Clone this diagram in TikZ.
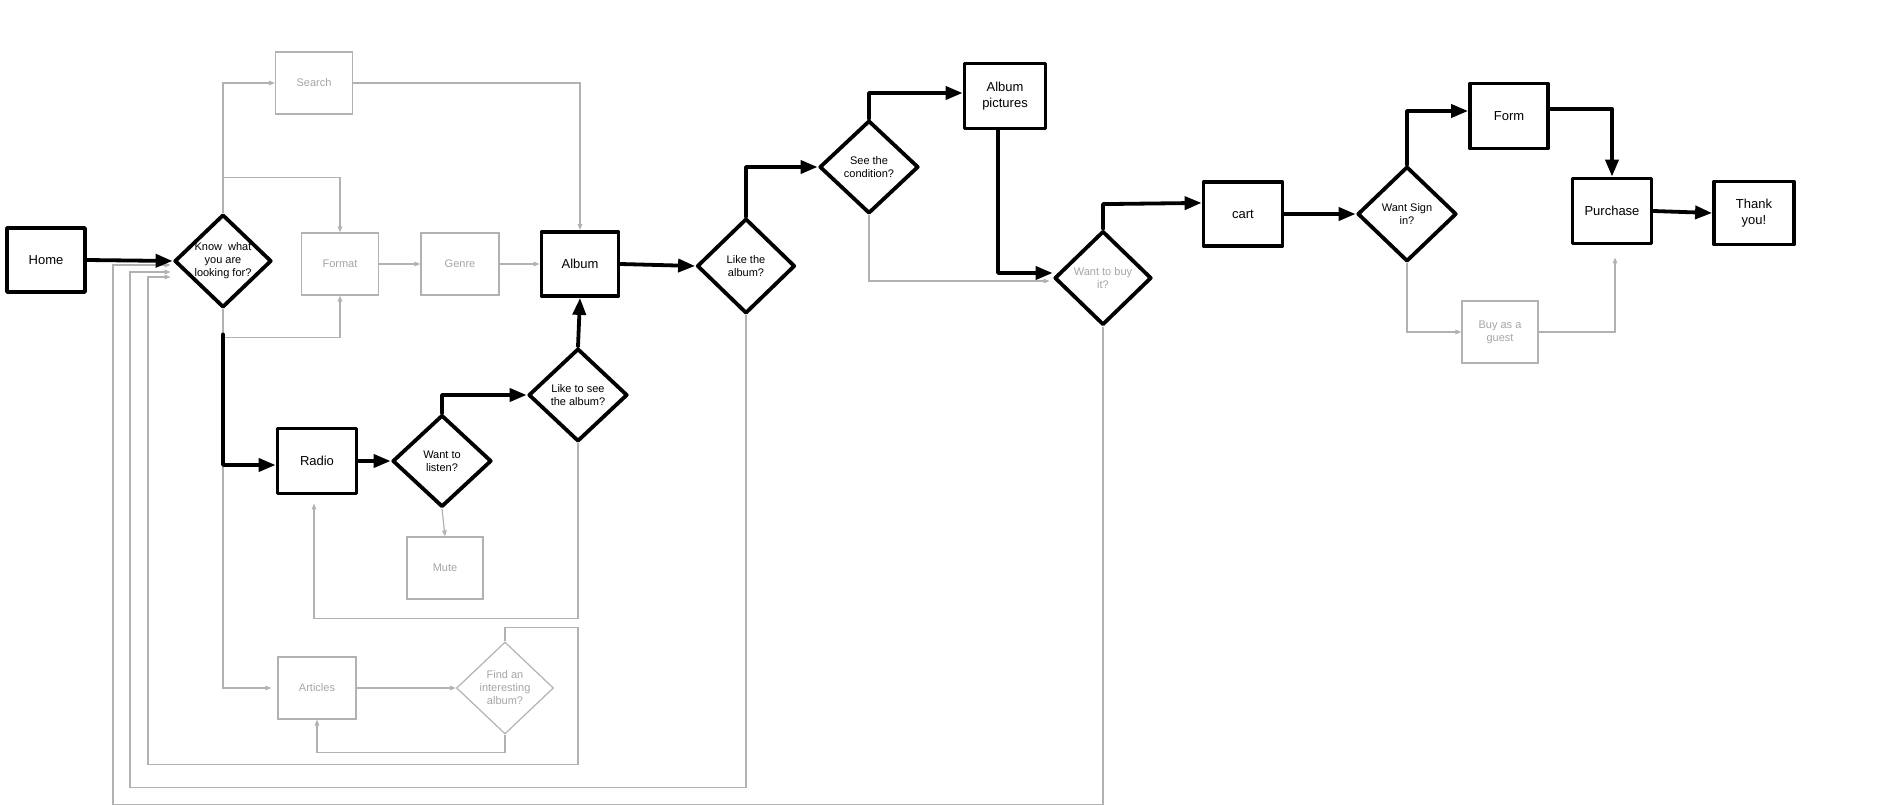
\documentclass[tikz,border=0pt]{standalone}
\usepackage{fontspec}
\setmainfont{Liberation Sans}
\usetikzlibrary{shapes.geometric,arrows.meta,calc}
\definecolor{lgray}{RGB}{178,178,178}
\definecolor{gtext}{RGB}{165,165,165}
\tikzset{
  blk/.style={draw=black, line width=3.8pt, line join=round, inner sep=0pt,
    font=\fontsize{13}{15.5}\selectfont, align=center,
    minimum width=78pt, minimum height=64pt},
  gbox/.style={draw=lgray, line width=1.2pt, inner sep=0pt, text=gtext,
    font=\fontsize{11}{13}\selectfont, align=center,
    minimum width=77pt, minimum height=62pt},
  bdia/.style={diamond, draw=black, line width=3.8pt, line join=round, inner sep=0pt,
    minimum width=98pt, minimum height=93pt},
  gdia/.style={diamond, draw=lgray, line width=1.2pt, inner sep=0pt,
    minimum width=97pt, minimum height=92pt},
  dlab/.style={font=\fontsize{11}{13}\selectfont, align=center, inner sep=0pt},
  tline/.style={line width=3.8pt, line join=round, line cap=round,
    -{Triangle[length=17pt,width=13pt]}},
  gline/.style={draw=lgray, line width=1.2pt,
    -{Triangle[length=6pt,width=4.5pt]}}
}
\begin{document}
\begin{tikzpicture}[x=1pt,y=-1pt]
\useasboundingbox (0,0) rectangle (1900,805);

% nodes
\node[blk] (home) at (46,260) {Home};
\node[bdia, minimum width=97pt, label={[dlab]center:{Know\ \ what\\you are\\looking for?}}] (know) at (223,261) {};
\node[gbox] (search) at (314,83) {Search};
\node[gbox] (format) at (340,264) {Format};
\node[gbox, minimum width=78pt] (genre) at (460,264) {Genre};
\node[blk, minimum width=77pt] (album) at (580,264) {Album};
\node[blk, minimum width=79pt, minimum height=65pt] (radio) at (317,461) {Radio};
\node[bdia, minimum width=99pt, minimum height=92pt, label={[dlab]center:{Want to\\listen?}}] (listen) at (442,461) {};
\node[bdia, minimum width=99pt, label={[dlab]center:{Like to see\\the album?}}] (likesee) at (578,395) {};
\node[gbox, minimum width=76pt] (mute) at (445,568) {Mute};
\node[gbox, minimum width=78pt] (articles) at (317,688) {Articles};
\node[gdia, label={[dlab,text=gtext]center:{Find an\\interesting\\album?}}] (find) at (505,688) {};
\node[bdia, minimum height=95pt, label={[dlab]center:{Like the\\album?}}] (likealbum) at (746,266) {};
\node[bdia, minimum width=99pt, label={[dlab]center:{See the\\condition?}}] (seecond) at (869,167) {};
\node[blk, minimum width=81pt, minimum height=65pt] (pics) at (1005,96) {Album\\pictures};
\node[bdia, minimum width=97pt, minimum height=94pt, label={[dlab,text=gtext]center:{Want to buy\\it?}}] (wantbuy) at (1103,278) {};
\node[blk, minimum width=79pt] (cart) at (1243,214) {cart};
\node[bdia, minimum width=99pt, minimum height=95pt, label={[dlab]center:{Want Sign\\in?}}] (wantsign) at (1407,214) {};
\node[blk, minimum height=65pt] (form) at (1509,116) {Form};
\node[blk, minimum width=79pt, minimum height=65pt] (purchase) at (1612,211) {Purchase};
\node[blk, minimum width=80pt, minimum height=63pt] (thank) at (1754,213) {Thank\\you!};
\node[gbox, minimum width=76pt] (guest) at (1500,332) {Buy as a\\guest};

% grey connectors
\draw[gline] (know.north) |- (search.west);
\draw[gline] (know.north) -- ++(0,-35) -| (format.north);
\draw[gline] (know.south) -- ++(0,28) -| (format.south);
\draw[gline] (know.south) |- ($(articles.west)+(-6,0)$);
\draw[gline] (search.east) -| (album.north);
\draw[gline] (format.east) -- (genre.west);
\draw[gline] (genre.east) -- (album.west);
\draw[gline] (listen.south) -- (mute.north);
\draw[gline] (likesee.south) -- ++(0,175) -| ($(radio.south)+(-3,8)$);
\draw[gline] (articles.east) -- (find.west);
\draw[gline] (find.south) -- ++(0,18) -| (articles.south);
\draw[gline] (find.north) -- ++(0,-14) -- ++(73,0) -- ++(0,137) -- ++(-430,0) |- ($(know.west)+(-2,16)$);
\draw[gline] (likealbum.south) -- ++(0,472) -- ++(-616,0) |- ($(know.west)+(-2,11)$);
\draw[gline] (wantbuy.south) -- ++(0,478) -- ++(-990,0) |- ($(know.west)+(-2,4)$);
\draw[gline] (seecond.south) |- ($(wantbuy.west)+(-3,3)$);
\draw[gline] (wantsign.south) |- (guest.west);
\draw[gline] (guest.east) -| ($(purchase.south)+(3,12)$);

% black connectors
\draw[tline] (home.east) -- (know.west);
\draw[tline] ($(know.south)+(0,25)$) |- ($(radio.west)+(0,4)$);
\draw[tline] (radio.east) -- (listen.west);
\draw[tline] (listen.north) |- (likesee.west);
\draw[tline] (likesee.north) -- (album.south);
\draw[tline] (album.east) -- (likealbum.west);
\draw[tline] (likealbum.north) |- (seecond.west);
\draw[tline] (seecond.north) |- ($(pics.west)+(0,-3)$);
\draw[tline] ($(pics.south)+(-7,0)$) |- ($(wantbuy.west)+(0,-5)$);
\draw[tline] (wantbuy.north) -- ++(0,-25) -- (cart.165);
\draw[tline] (cart.east) -- (wantsign.west);
\draw[tline] (wantsign.north) |- ($(form.west)+(0,-5)$);
\draw[tline] (form.10) -| (purchase.north);
\draw[tline] (purchase.east) -- (thank.west);
\end{tikzpicture}
\end{document}
